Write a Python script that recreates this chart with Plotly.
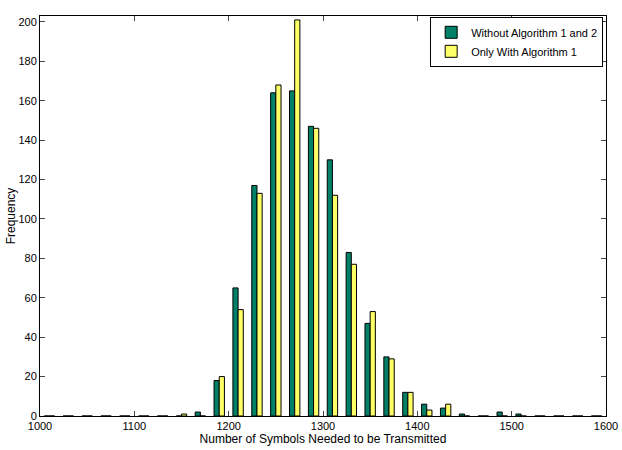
import plotly.graph_objects as go

# bin centers: 1010 ... 1590 (20-unit bins)
without_alg = [0, 0, 0, 0, 0, 0, 0, 0, 2, 18, 65, 117, 164, 165, 147, 130, 83, 47, 30, 12, 6, 4, 1, 0, 2, 1, 0, 0, 0, 0]
with_alg1 = [0, 0, 0, 0, 0, 0, 0, 1, 0, 20, 54, 113, 168, 201, 146, 112, 77, 53, 29, 12, 3, 6, 0, 0, 0, 0, 0, 0, 0, 0]
bin_centers = [1010 + 20 * i for i in range(len(without_alg))]
series_names = ["Without Algorithm 1 and 2", "Only With Algorithm 1"]
x_ticks = [1000, 1100, 1200, 1300, 1400, 1500, 1600]
y_ticks = list(range(0, 201, 20))

fig = go.Figure()
fig.add_trace(go.Bar(x=bin_centers, y=without_alg, name=series_names[0],
                     marker=dict(color="rgb(0,128,102)", line=dict(color="black", width=1))))
fig.add_trace(go.Bar(x=bin_centers, y=with_alg1, name=series_names[1],
                     marker=dict(color="rgb(255,255,102)", line=dict(color="black", width=1))))

font = "Liberation Sans, Arial, Helvetica, sans-serif"
fig.update_layout(
    width=622, height=450,
    margin=dict(l=40, r=16, t=16, b=34, autoexpand=False),
    plot_bgcolor="white", paper_bgcolor="white",
    barmode="group", bargap=0.45, bargroupgap=0,
    font=dict(family=font, size=11, color="black"),
    showlegend=True,
    legend=dict(x=0.995, y=0.998, xanchor="right", yanchor="top",
                bordercolor="black", borderwidth=1, bgcolor="white",
                font=dict(size=11), tracegroupgap=0, itemwidth=30),
)
fig.update_xaxes(range=[1000, 1600], tickvals=x_ticks, ticks="inside", ticklen=5,
                 showline=True, linecolor="black", linewidth=1, mirror="allticks",
                 showgrid=False, zeroline=False, automargin=False, ticklabeloverflow="allow",
                 title=dict(text="Number of Symbols Needed to be Transmitted", font=dict(size=12), standoff=0))
fig.update_yaxes(range=[0, 203], tickvals=y_ticks, ticks="inside", ticklen=5,
                 showline=True, linecolor="black", linewidth=1, mirror="allticks",
                 showgrid=False, zeroline=False, automargin=False, ticklabeloverflow="allow",
                 title=dict(text="Frequency", font=dict(size=12), standoff=0))

fig.write_html("out.html", config={"displayModeBar": False},
               post_script="document.body.style.margin='0';document.body.style.overflow='hidden';")
